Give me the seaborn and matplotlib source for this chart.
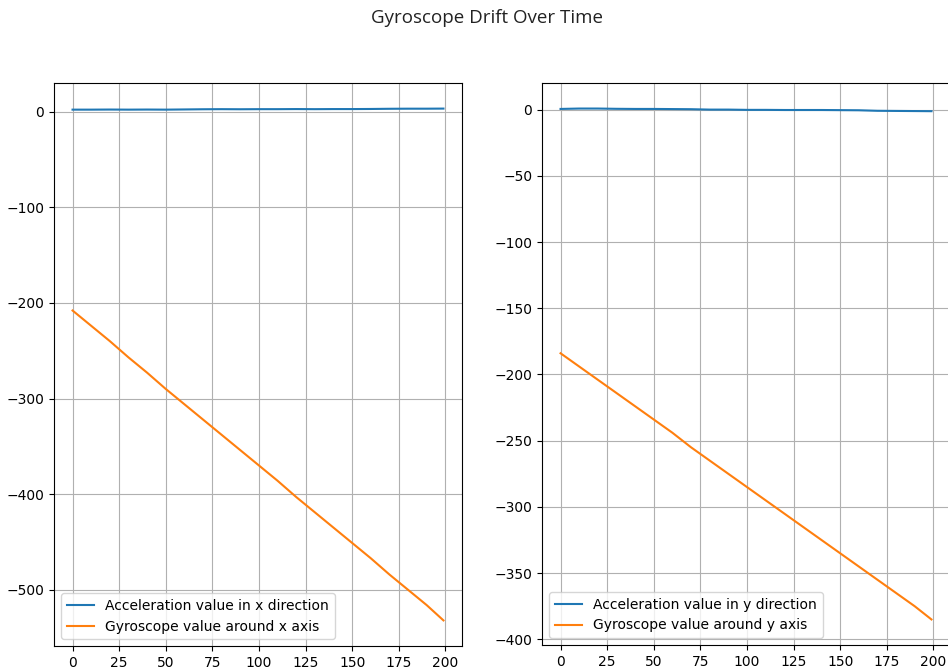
import numpy as np
import pandas as pd
import seaborn as sns
import matplotlib.pyplot as plt

# sampled time steps
t = [0, 10, 20, 30, 40, 50, 60, 70, 80, 90, 100, 110, 120, 130, 140, 150,
     160, 170, 180, 190, 199]

acc_x = [2.0, 2.0, 2.1, 2.0, 2.1, 2.0, 2.2, 2.4, 2.5, 2.4, 2.5, 2.5, 2.6,
         2.5, 2.6, 2.6, 2.7, 2.9, 3.0, 3.0, 3.1]
gyro_x = [-208, -224, -240, -257, -273, -290, -306, -322, -338, -354, -370,
          -386, -403, -419, -435, -451, -467, -484, -500, -516, -532]

acc_y = [0.5, 0.8, 0.8, 0.6, 0.5, 0.5, 0.4, 0.3, 0.0, 0.0, -0.2, -0.2, -0.3,
         -0.3, -0.3, -0.4, -0.5, -0.9, -1.0, -1.1, -1.2]
gyro_y = [-184, -194, -204, -214, -224, -234, -244, -255, -265, -275, -285,
          -295, -305, -315, -325, -335, -345, -355, -365, -375, -385]

df = pd.DataFrame({"t": t, "acc_x": acc_x, "gyro_x": gyro_x,
                   "acc_y": acc_y, "gyro_y": gyro_y})

fig = plt.figure(figsize=(9.48, 6.71), dpi=100)
ax1 = fig.add_axes([54 / 948, 25 / 671, 408 / 948, 563 / 671])
ax2 = fig.add_axes([542 / 948, 26 / 671, 408 / 948, 562 / 671])

sns.lineplot(data=df, x="t", y="acc_x", ax=ax1, color="tab:blue",
             label="Acceleration value in x direction")
sns.lineplot(data=df, x="t", y="gyro_x", ax=ax1, color="tab:orange",
             label="Gyroscope value around x axis")

sns.lineplot(data=df, x="t", y="acc_y", ax=ax2, color="tab:blue",
             label="Acceleration value in y direction")
sns.lineplot(data=df, x="t", y="gyro_y", ax=ax2, color="tab:orange",
             label="Gyroscope value around y axis")

for ax in (ax1, ax2):
    ax.set_xlabel("")
    ax.set_ylabel("")
    ax.set_xticks([0, 25, 50, 75, 100, 125, 150, 175, 200])
    ax.grid(True)
    ax.legend(loc="lower left")

fig.suptitle("Gyroscope Drift Over Time", x=487 / 948, y=1 - 18 / 671,
             va="center", fontsize=13.5, color="#222222",
             family=["Open Sans", "DejaVu Sans"])

plt.savefig("out.png", dpi=100)
